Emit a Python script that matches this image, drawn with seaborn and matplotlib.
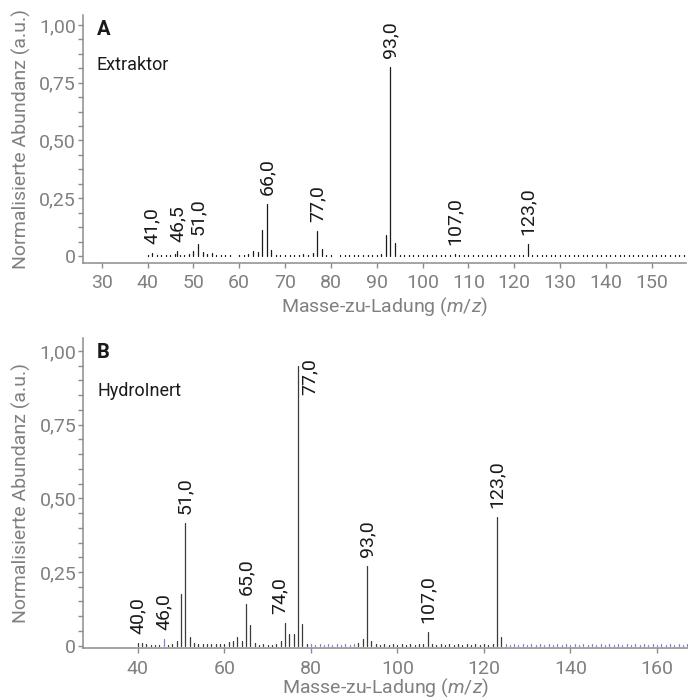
import numpy as np
import pandas as pd
import matplotlib
matplotlib.use("Agg")
import matplotlib.pyplot as plt
from matplotlib.ticker import MultipleLocator
import seaborn as sns

# Panel A - Extraktor (m/z, normalisierte Abundanz)
extr_mz = [40, 41, 42, 43, 44, 45, 46, 46.5, 47, 48, 49,
           50, 51, 52, 53, 54, 55, 56, 57, 58, 59,
           60, 61, 62, 63, 64, 65, 66, 67, 68, 69,
           70, 71, 72, 73, 74, 75, 76, 77, 78, 79,
           80, 81, 82, 83, 84, 85, 86, 87, 88, 89,
           90, 91, 92, 93, 94, 95, 96, 97, 98, 99,
           100, 101, 102, 103, 104, 105, 106, 107, 108, 109,
           110, 111, 112, 113, 114, 115, 116, 117, 118, 119,
           120, 121, 122, 123, 124, 125, 126, 127, 128, 129,
           130, 131, 132, 133, 134, 135, 136, 137, 138, 139,
           140, 141, 142, 143, 144, 145, 146, 147, 148, 149,
           150, 151, 152, 153, 154, 155, 156, 157]
extr_ab = [.004, .014, .004, .003, .004, .005, .008, .023, .004, .003, .008,
           .023, .052, .018, .008, .012, .004, .003, .004, .003, .002,
           .004, .006, .009, .023, .016, .114, .223, .026, .004, .003,
           .004, .003, .004, .005, .009, .006, .012, .110, .029, .005,
           .004, .002, .004, .003, .004, .003, .004, .003, .004, .003,
           .004, .008, .091, .820, .058, .004, .003, .004, .003, .004,
           .003, .004, .003, .004, .003, .004, .004, .009, .003, .004,
           .003, .004, .003, .004, .003, .004, .003, .004, .003, .004,
           .003, .004, .004, .052, .005, .003, .004, .003, .004, .003,
           .004, .003, .004, .003, .004, .004, .003, .004, .003, .004,
           .003, .004, .003, .004, .003, .004, .003, .004, .003, .004,
           .003, .004, .003, .004, .003, .004, .003, .004]
extr_labels = [41.0, 46.5, 51.0, 66.0, 77.0, 93.0, 107.0, 123.0]

# Panel B - HydroInert
hydro_mz = [40, 41, 42, 43, 44, 45, 47, 48, 49,
            50, 51, 52, 53, 54, 55, 56, 57, 58, 59,
            60, 61, 62, 63, 64, 65, 66, 67, 68, 69,
            70, 71, 72, 73, 74, 75, 76, 77, 78, 79,
            91, 92, 93, 94, 95, 96, 97, 98, 99,
            100, 101, 102, 103, 104, 105, 106, 107, 108, 109,
            110, 111, 112, 113, 114, 115, 116, 117, 118, 119,
            120, 121, 122, 123, 124]
hydro_ab = [.010, .008, .004, .003, .003, .003, .003, .004, .017,
            .174, .415, .030, .008, .007, .004, .004, .005, .004, .004,
            .005, .011, .017, .029, .016, .141, .070, .008, .003, .004,
            .003, .003, .004, .017, .078, .040, .038, .949, .075, .006,
            .008, .023, .270, .017, .004, .003, .004, .003, .004,
            .003, .004, .003, .004, .003, .004, .004, .045, .005, .003,
            .004, .003, .004, .003, .004, .003, .004, .003, .004, .003,
            .004, .003, .004, .435, .028]
# zweite (blaue) Spur, meist Grundlinie
hydro_bg_mz = [46, 80, 81, 82, 83, 84, 85, 86, 87, 88, 89, 90,
               125, 126, 127, 128, 129, 130, 131, 132, 133, 134, 135, 136,
               137, 138, 139, 140, 141, 142, 143, 144, 145, 146, 147, 148,
               149, 150, 151, 152, 153, 154, 155, 156, 157, 158, 159, 160,
               161, 162, 163, 164, 165, 166, 167, 168]
hydro_bg_ab = [.024, .004, .003, .004, .003, .004, .003, .004, .003, .004, .003, .004,
               .004, .003, .004, .003, .004, .003, .004, .003, .004, .003, .004, .003,
               .004, .003, .004, .003, .004, .003, .004, .003, .004, .003, .004, .003,
               .004, .003, .004, .003, .004, .003, .004, .003, .004, .003, .004, .003,
               .004, .003, .004, .003, .004, .003, .004, .003]
hydro_labels = [40.0, 46.0, 51.0, 65.0, 74.0, 77.0, 93.0, 107.0, 123.0]


def sticks(mz, ab, trace):
    # zwei Punkte pro Peak: Grundlinie und Spitze
    n = len(mz)
    return pd.DataFrame({
        "mz": np.repeat(mz, 2),
        "ab": np.column_stack([np.zeros(n), ab]).ravel(),
        "peak": [f"{trace}{i}" for i in range(n) for _ in range(2)],
        "trace": trace,
    })


def fmt(v):
    return f"{v:.1f}".replace(".", ",")


sns.set_theme(style="ticks")
plt.rcParams["font.family"] = ["Roboto", "DejaVu Sans"]
plt.rcParams["mathtext.fontset"] = "custom"
plt.rcParams["mathtext.rm"] = "Roboto"
plt.rcParams["mathtext.it"] = "Roboto:italic"

grey = "#808080"
fs = 14
fig = plt.figure(figsize=(6.88, 6.98), dpi=100)
ax1 = fig.add_axes([0.1206, 0.6236, 0.8765, 0.3549])
ax2 = fig.add_axes([0.1211, 0.0712, 0.8790, 0.4441])

df1 = sticks(extr_mz, extr_ab, "main")
sns.lineplot(data=df1, x="mz", y="ab", units="peak", estimator=None, color="#1a1a1a",
             linewidth=0.9, ax=ax1, legend=False)

df2 = pd.concat([sticks(hydro_mz, hydro_ab, "main"), sticks(hydro_bg_mz, hydro_bg_ab, "bg")])
sns.lineplot(data=df2, x="mz", y="ab", units="peak", estimator=None, hue="trace",
             palette={"main": "#3a3a3a", "bg": "#7f86cc"}, linewidth=0.9, ax=ax2, legend=False)

# Beschriftung der Peaks
pk1 = dict(zip(extr_mz, extr_ab))
for m in extr_labels:
    ax1.annotate(fmt(m), xy=(m, pk1[m]), xytext=(0, 6.5), textcoords="offset points",
                 rotation=90, ha="center", va="bottom", fontsize=14, color="#1a1a1a")

pk2 = dict(zip(hydro_mz, hydro_ab))
pk2.update(zip(hydro_bg_mz, hydro_bg_ab))
for m in hydro_labels:
    if m == 77.0:
        ax2.annotate(fmt(m), xy=(m, pk2[m]), xytext=(2, 6), textcoords="offset points",
                     rotation=90, ha="left", va="top", fontsize=14, color="#1a1a1a")
    else:
        dx = -4 if m == 74.0 else 0
        ax2.annotate(fmt(m), xy=(m, pk2[m]), xytext=(dx, 6.5), textcoords="offset points",
                     rotation=90, ha="center", va="bottom", fontsize=14, color="#1a1a1a")

ax1.set_xlim(25.9, 157.5)
ax1.set_ylim(-0.029, 1.043)
ax1.xaxis.set_major_locator(MultipleLocator(10))
ax1.yaxis.set_minor_locator(MultipleLocator(0.0625))

ax2.set_xlim(27.4, 167.2)
ax2.set_ylim(-0.009, 1.043)
ax2.xaxis.set_major_locator(MultipleLocator(20))
ax2.yaxis.set_minor_locator(MultipleLocator(0.05))

for ax, letter, name, ly, ny, xpad in [(ax1, "A", "Extraktor", 0.94, 0.80, 2.5),
                                       (ax2, "B", "HydroInert", 0.955, 0.83, -1)]:
    ax.set_yticks([0, 0.25, 0.5, 0.75, 1.0])
    ax.set_yticklabels(["0", "0,25", "0,50", "0,75", "1,00"])
    sns.despine(ax=ax)
    for s in ["left", "bottom"]:
        ax.spines[s].set_color("#8c8c8c")
        ax.spines[s].set_linewidth(1.1)
    ax.tick_params(axis="both", which="both", direction="out", length=3.6, width=1,
                   color="#8c8c8c", labelcolor=grey, labelsize=fs)
    ax.tick_params(axis="y", pad=1.5)
    ax.tick_params(axis="x", pad=4.5)
    ax.set_ylabel("Normalisierte Abundanz (a.u.)", color=grey, fontsize=fs, labelpad=6)
    ax.set_xlabel(r"Masse-zu-Ladung ($\mathit{m/z}$)", color=grey, fontsize=fs, labelpad=xpad)
    ax.text(0.023, ly, letter, transform=ax.transAxes, fontsize=14.5, fontweight="bold",
            color="#1a1a1a", va="center", ha="left")
    ax.text(0.023, ny, name, transform=ax.transAxes, fontsize=13, color="#1a1a1a",
            va="center", ha="left")

fig.savefig("out.png", dpi=100)
